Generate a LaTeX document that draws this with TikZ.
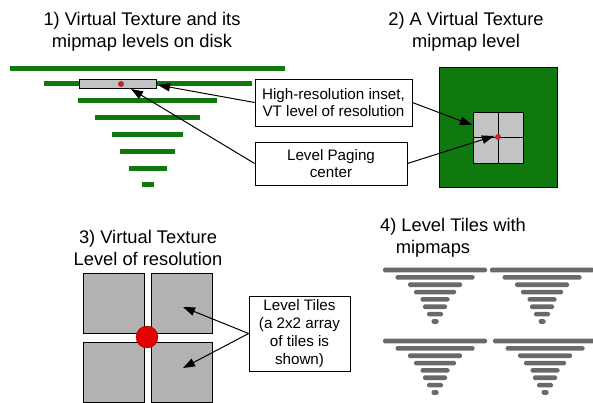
\documentclass[tikz,border=0pt]{standalone}
\usepackage{fontspec}
\setmainfont{Liberation Sans}
\usetikzlibrary{arrows.meta}

\definecolor{vtgreen}{RGB}{15,120,15}
\definecolor{tilegray}{RGB}{178,178,178}
\definecolor{insetgray}{RGB}{195,195,195}
\definecolor{mipgray}{RGB}{105,105,105}
\definecolor{dotred}{RGB}{190,40,40}

\tikzset{
  title/.style={align=center,font=\fontsize{18.3}{22}\selectfont},
  callout/.style={draw,line width=0.8pt,align=center,inner sep=2pt,
    font=\fontsize{15.2}{17.8}\selectfont},
  pointer/.style={line width=1pt,-{Triangle[length=12pt,width=8.5pt]}},
  pagedot/.style={circle,fill=dotred,inner sep=0pt,minimum size=6pt}
}

\begin{document}
\begin{tikzpicture}[x=1pt,y=-1pt]
\useasboundingbox (0,0) rectangle (593,402);

% titles
\node[title] (t1) at (142,32) {1) Virtual Texture and its\\mipmap levels on disk};
\node[title] (t2) at (466,32) {2) A Virtual Texture\\mipmap level};
\node[title] (t3) at (148,248) {3) Virtual Texture\\Level of resolution};
\node[title] (t4) at (453,238) {4) Level Tiles with\\mipmaps\hspace*{40pt}};

% mipmap chain on disk
\foreach \w/\y in {137.5/68,104/83,69.5/100,52.5/117,35.5/134,27.5/151,19/168,6/184}
  \fill[vtgreen] (147.5-\w,\y-2.5) rectangle (147.5+\w,\y+2.5);
\draw[fill=insetgray,line width=0.8pt] (79,79) rectangle (156,88);
\node[pagedot] (dot1) at (121,84) {};

% one mipmap level
\draw[fill=vtgreen,line width=0.8pt] (439,67) rectangle (557,187);
\draw[fill=insetgray,line width=0.8pt] (473,112) rectangle (523,163);
\draw[line width=0.8pt] (498,112) -- (498,163);
\draw[line width=0.8pt] (473,137) -- (523,137);
\node[pagedot] (dot2) at (498,137) {};

% callouts
\node[callout,minimum width=157pt,minimum height=47pt] (hires) at (333.5,102.5)
  {High-resolution inset,\\VT level of resolution};
\node[callout,minimum width=152pt,minimum height=43pt] (paging) at (331,163.5)
  {Level Paging\\center};

\coordinate (insetend) at (158,85);
\coordinate (dot1tip) at (131,89);
\coordinate (levelinset) at (472,125);
\coordinate (dot2tip) at (494,136);
\draw[pointer] (hires.west) -- (insetend);
\draw[pointer] (hires.east) -- (levelinset);
\draw[pointer] (paging.west) -- (dot1tip);
\draw[pointer] (paging.east) -- (dot2tip);

% level of resolution, 2x2 tiles
\foreach \x/\y in {83/273,151/273,83/342,151/342}
  \draw[fill=tilegray,line width=0.8pt] (\x,\y) rectangle ++(61,60);
\node[circle,fill=red!90!black,draw=red!60!black,inner sep=0pt,minimum size=22pt] (centre) at (147,337) {};

\node[callout,minimum width=101pt,minimum height=75pt] (tiles) at (299.5,333.5)
  {Level Tiles\\(a 2x2 array\\of tiles is\\shown)};
\coordinate (toptile) at (183,307);
\coordinate (bottile) at (183,368);
\draw[pointer] (tiles.west) -- (toptile);
\draw[pointer] (tiles.west) -- (bottile);

% tiles with their own mipmaps
\foreach \cx/\cy in {435/270,542/270,435/341,545/341}
  \foreach \w [count=\i from 0] in {52,39.5,27,21,14.5,12,8,3.5}
    \fill[mipgray,rounded corners=1.5pt] (\cx-\w,\cy+\i*7.35-2.3) rectangle (\cx+\w,\cy+\i*7.35+2.3);

\end{tikzpicture}
\end{document}
